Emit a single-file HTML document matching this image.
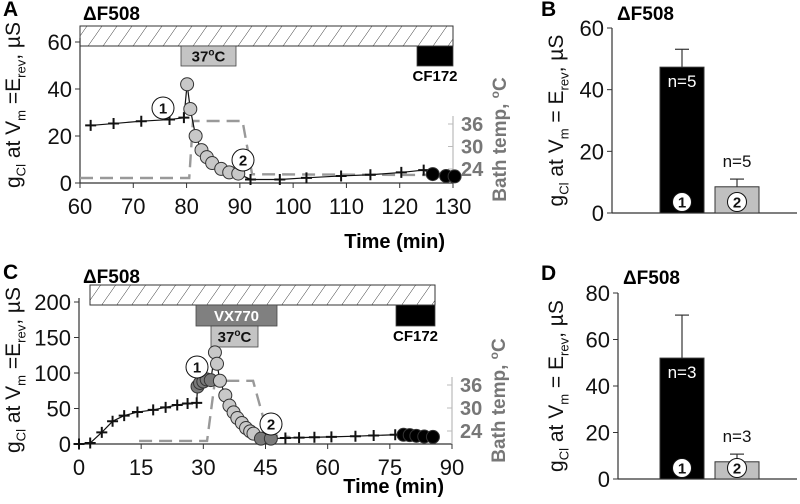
<!DOCTYPE html>
<html><head><meta charset="utf-8"><style>
body{margin:0;background:#fff}
svg{display:block;font-family:"Liberation Sans",Arial,sans-serif}
</style></head><body>
<svg id="fig" width="800" height="504" viewBox="0 0 800 504" xmlns="http://www.w3.org/2000/svg">
<defs>
<pattern id="hatch" patternUnits="userSpaceOnUse" width="15" height="20" patternTransform="skewX(-35)">
<rect width="15" height="20" fill="#fff"/><line x1="0" y1="0" x2="0" y2="20" stroke="#222" stroke-width="1"/>
</pattern>
</defs>
<g id="A"></g>
<g id="B"></g>
<g id="C"></g>
<g id="D"></g>
</svg>
<script>
// ---- Panel A data ----
const aPlusPre = [[62,24.5],[66.3,25.3],[71.5,26.3],[76.8,27],[79.5,27.8]];
const aCircGray = [[80.1,42],[80.7,31.5],[81.7,20],[82.8,14],[83.8,11],[84.8,8.5],[86.5,6],[88,4.5],[89.7,4]];
const aPlusPost = [[92,1.5],[97.5,1.5],[102.5,2.2],[109,3],[114.5,3.5],[120.3,4.5],[124.5,5.5]];
const aCircBlack = [[126.2,3.8],[128.7,3],[130.3,2.8]];
const aTemp = [[60,21.6],[80.5,21.6],[81.2,36.8],[90.5,36.8],[92.3,22.6],[125,22.4]];
const aXTicks = [60,70,80,90,100,110,120,130];
const aYTicks = [0,20,40,60];
// ---- Panel C data ----
const cPlusPre = [[0,0],[2.7,1.4],[5.5,16.4],[8.1,32],[10.9,40],[14.1,45],[17.9,48],[20.9,51.6],[23.7,55],[26.2,57],[28.4,58]];
const cCircDark1 = [[28.6,81],[29.2,86],[30,88],[30.8,91],[31.8,90]];
const cCircGray = [[32.8,129],[33.3,113],[34,89],[35.3,68.5],[36.3,54],[37.3,44.6],[38.2,36.6],[39.3,29.6],[40.3,22.5],[41.3,17.8],[42.1,14.6]];
const cCircDark2 = [[43.9,7.5],[46.3,7.5]];
const cPlusPost = [[49.8,8.5],[53.1,9],[56.8,9.5],[60.9,10],[66.7,11],[71.1,12],[76.3,13]];
const cCircBlack = [[78.3,13],[79.8,12.5],[81.4,11.5],[83.3,10.5],[85.4,10]];
const cTemp = [[14.5,21.4],[30.9,21.4],[32.8,37.1],[42,37.1],[45.6,23],[51,22.4]];
const cXTicks = [0,15,30,45,60,75,90];
const cYTicks = [0,50,100,150,200];
const tempTicks = [24,30,36];
// ---- Bars ----
const bValues = [47.3,8.5];
const bErrors = [5.8,2.5];
const bN = ["n=5","n=5"];
const bYTicks = [0,20,40,60];
const dValues = [52,7.4];
const dErrors = [18.5,3.3];
const dN = ["n=3","n=3"];
const dYTicks = [0,20,40,60,80];

const NS="http://www.w3.org/2000/svg";
function mk(parent,tag,attrs,txt){const e=document.createElementNS(NS,tag);for(const k in attrs)e.setAttribute(k,attrs[k]);if(txt!==undefined)e.textContent=txt;parent.appendChild(e);return e;}
function lin(d0,d1,r0,r1){return v=>r0+(v-d0)*(r1-r0)/(d1-d0);}

function ylabel(g,x,y,fs,spaced){
  const t=mk(g,'text',{x:x,y:y,transform:`rotate(-90 ${x} ${y})`,'text-anchor':'middle','font-size':fs,fill:'#111'});
  
  
  const parts=[['g',0],['Cl',1],[' at V',0],['m',1],[spaced?' = E':' =E',0],['rev',1],[', µS',0]];
  let prevSub=false;
  parts.forEach(p=>{
    let dy=0;
    if(p[1]&&!prevSub)dy=fs*0.25;
    if(!p[1]&&prevSub)dy=-fs*0.25;
    mk(t,'tspan',{'font-size':p[1]?fs*0.62:fs,dy:dy},p[0]);
    prevSub=!!p[1];
  });
}
function numCircle(g,x,y,label,fill,r){
  r=r||10.5;
  mk(g,'circle',{cx:x,cy:y,r:r,fill:fill||'#fff',stroke:'#111','stroke-width':1});
  const t=mk(g,'text',{x:x,y:y+5.5,'text-anchor':'middle','font-size':15,'font-weight':'bold',fill:'#111'},label);
  
  
}
function plus(g,x,y){mk(g,'path',{d:`M${x-5.5} ${y}H${x+5.5}M${x} ${y-5.5}V${y+5.5}`,stroke:'#111','stroke-width':2});}
function circ(g,x,y,fill){mk(g,'circle',{cx:x,cy:y,r:6.5,fill:fill,stroke:'#333','stroke-width':1});}

function timePanel(g,cfg){
  const X=lin(cfg.xd[0],cfg.xd[1],cfg.x0,cfg.x1), Y=lin(0,cfg.ymax,cfg.y0,cfg.ytop), T=lin(24,36,cfg.t24,cfg.t36);
  let t=mk(g,'text',{x:3,y:cfg.letterY,'font-size':21,'font-weight':'bold'},cfg.letter);
  
  
  t=mk(g,'text',{x:cfg.titleX,y:cfg.letterY+4,'font-size':19,'font-weight':'bold'},'ΔF508');
  
  
  const hb=mk(g,'rect',{x:cfg.hx0,y:cfg.hy,width:cfg.hx1-cfg.hx0,height:20,fill:'url(#hatch)',stroke:'#333','stroke-width':1});
  
  
  cfg.boxes.forEach(b=>{
    const r=mk(g,'rect',{x:b.x,y:b.y,width:b.w,height:b.h,fill:b.fill,stroke:'#444','stroke-width':0.8});
    
    
    if(b.text){const tt=mk(g,'text',{x:b.x+b.w/2,y:b.y+b.h/2+5.5,'text-anchor':'middle','font-size':15,'font-weight':'bold',fill:b.tc},b.text);
      if(b.sup){tt.textContent='';mk(tt,'tspan',{},'37');mk(tt,'tspan',{'font-size':10,dy:-6},'o');mk(tt,'tspan',{dy:6},'C');}
      
      }
    if(b.below){const tt=mk(g,'text',{x:b.x+b.w/2,y:b.y+b.h+15,'text-anchor':'middle','font-size':15,'font-weight':'bold'},b.below);
      
      }
  });
  mk(g,'line',{x1:cfg.x0,y1:cfg.ytop-4,x2:cfg.x0,y2:cfg.y0,stroke:'#333','stroke-width':1.2});
  mk(g,'line',{x1:cfg.x0,y1:cfg.y0,x2:cfg.x1,y2:cfg.y0,stroke:'#333','stroke-width':1.2});
  cfg.xticks.forEach(v=>{mk(g,'line',{x1:X(v),y1:cfg.y0,x2:X(v),y2:cfg.y0+5,stroke:'#333'});
    const tt=mk(g,'text',{x:X(v),y:cfg.y0+31,'text-anchor':'middle','font-size':22,fill:'#111'},v);
    
    });
  cfg.yticks.forEach(v=>{mk(g,'line',{x1:cfg.x0-5,y1:Y(v),x2:cfg.x0,y2:Y(v),stroke:'#333'});
    const tt=mk(g,'text',{x:cfg.x0-8,y:Y(v)+8,'text-anchor':'end','font-size':22,fill:'#111'},v);
    
    });
  t=mk(g,'text',{x:cfg.x1-8,y:cfg.xtitleY,'text-anchor':'end','font-size':20,'font-weight':'bold'},'Time (min)');
  
  
  ylabel(g,cfg.ylabX,cfg.ylabY,21,false);
  const rx=cfg.rx;
  mk(g,'line',{x1:rx,y1:T(36)-8,x2:rx,y2:cfg.y0,stroke:'#bbb','stroke-width':1.2});
  tempTicks.forEach(v=>{mk(g,'line',{x1:rx-5,y1:T(v),x2:rx,y2:T(v),stroke:'#bbb'});
    const tt=mk(g,'text',{x:rx+8,y:T(v)+7,'font-size':20,'font-weight':'bold',fill:'#777'},v);
    
    });
  const by=(T(36)+cfg.y0)/2-14;
  const bt=mk(g,'text',{x:rx+53,y:by,transform:`rotate(-90 ${rx+53} ${by})`,'text-anchor':'middle','font-size':19,'font-weight':'bold',fill:'#777'});
  
  
  mk(bt,'tspan',{},'Bath temp, ');mk(bt,'tspan',{'font-size':12,dy:-7},'o');mk(bt,'tspan',{dy:7},'C');
  const tp=mk(g,'path',{d:cfg.temp.map((p,i)=>(i?'L':'M')+X(p[0])+' '+T(p[1])).join(''),fill:'none',stroke:'#999','stroke-width':2.4,'stroke-dasharray':'13 7'});
  
  
  const all=[].concat(...cfg.series.map(s=>s.data));
  const ln=mk(g,'path',{d:all.map((p,i)=>(i?'L':'M')+X(p[0])+' '+Y(p[1])).join(''),fill:'none',stroke:'#111','stroke-width':1.2});
  
  
  cfg.series.forEach(s=>{s.data.forEach(p=>{ if(s.type==='plus')plus(g,X(p[0]),Y(p[1])); else circ(g,X(p[0]),Y(p[1]),s.fill);});});
  cfg.labels.forEach(l=>numCircle(g,l[0],l[1],l[2],'#fff',11));
}

timePanel(document.getElementById('A'),{letter:'A',letterY:16,titleX:83,xd:[60,130],x0:80,x1:453,ymax:60,y0:183,ytop:42,t24:169,t36:124,
  hx0:80,hx1:453,hy:26,xticks:aXTicks,yticks:aYTicks,xtitleY:248,ylabX:20,ylabY:105,rx:453,
  boxes:[{x:181,y:46,w:55,h:20,fill:'#c4c4c4',tc:'#111',text:'37',sup:true,name:'heat-37c-bar'},{x:417,y:46,w:36,h:20,fill:'#000',name:'cf172-bar',below:'CF172'}],
  temp:aTemp,
  series:[{type:'plus',data:aPlusPre},{type:'c',fill:'#c8c8c8',data:aCircGray},{type:'plus',data:aPlusPost},{type:'c',fill:'#000',data:aCircBlack}],
  labels:[[163,108,'1'],[243,160,'2']]});
timePanel(document.getElementById('C'),{letter:'C',letterY:279,titleX:83,xd:[0,90],x0:79,x1:452,ymax:200,y0:444,ytop:302,t24:431,t36:385,
  hx0:90,hx1:435,hy:285,xticks:cXTicks,yticks:cYTicks,xtitleY:493,ylabX:20,ylabY:370,rx:452,
  boxes:[{x:196,y:305,w:81,h:21,fill:'#808080',tc:'#fff',text:'VX770',name:'vx770-bar'},{x:211,y:326,w:47,h:21,fill:'#c4c4c4',tc:'#111',text:'37',sup:true,name:'heat-37c-bar'},{x:396,y:305,w:39,h:21,fill:'#000',name:'cf172-bar',below:'CF172'}],
  temp:cTemp,
  series:[{type:'plus',data:cPlusPre},{type:'c',fill:'#7a7a7a',data:cCircDark1},{type:'c',fill:'#c8c8c8',data:cCircGray},{type:'c',fill:'#7a7a7a',data:cCircDark2},{type:'plus',data:cPlusPost},{type:'c',fill:'#000',data:cCircBlack}],
  labels:[[197,367,'1'],[271,424,'2']]});

function barPanel(g,cfg){
  const Y=lin(0,cfg.ymax,cfg.y0,cfg.ytop);
  let t=mk(g,'text',{x:541,y:cfg.letterY,'font-size':21,'font-weight':'bold'},cfg.letter);
  
  
  t=mk(g,'text',{x:cfg.x0+5,y:cfg.letterY+4,'font-size':19,'font-weight':'bold'},'ΔF508');
  
  
  mk(g,'line',{x1:cfg.x0,y1:cfg.ytop,x2:cfg.x0,y2:cfg.y0,stroke:'#333','stroke-width':1.2});
  mk(g,'line',{x1:cfg.x0,y1:cfg.y0,x2:797,y2:cfg.y0,stroke:'#333','stroke-width':1.2});
  cfg.yticks.forEach(v=>{mk(g,'line',{x1:cfg.x0-5,y1:Y(v),x2:cfg.x0,y2:Y(v),stroke:'#333'});
    const tt=mk(g,'text',{x:cfg.x0-8,y:Y(v)+8,'text-anchor':'end','font-size':22,fill:'#111'},v);
    
    });
  ylabel(g,cfg.ylabX,(cfg.y0+cfg.ytop)/2,21,true);
  const xs=[660,715], w=44, fills=['#000','#c0c0c0'];
  cfg.values.forEach((v,i)=>{
    const top=Y(v), et=Y(v+cfg.errors[i]), cx=xs[i]+w/2;
    mk(g,'line',{x1:cx,y1:top,x2:cx,y2:et,stroke:'#333','stroke-width':1.2});
    mk(g,'line',{x1:cx-7,y1:et,x2:cx+7,y2:et,stroke:'#333','stroke-width':1.2});
    const r=mk(g,'rect',{x:xs[i],y:top,width:w,height:cfg.y0-top,fill:fills[i],stroke:'#333','stroke-width':1});
    
    
    const ny=i===0?top+20:et-12;
    const nt=mk(g,'text',{x:cx,y:ny,'text-anchor':'middle','font-size':17,fill:i===0?'#fff':'#111'},cfg.n[i]);
    
    
    numCircle(g,cx,cfg.y0-11,String(i+1),'#fff',9.5);
  });
}
barPanel(document.getElementById('B'),{letter:'B',letterY:16,x0:612,y0:213,ytop:28,ymax:60,yticks:bYTicks,values:bValues,errors:bErrors,n:bN,ylabX:563});
barPanel(document.getElementById('D'),{letter:'D',letterY:280,x0:618,y0:479,ytop:293,ymax:80,yticks:dYTicks,values:dValues,errors:dErrors,n:dN,ylabX:563});
</script>
</body></html>
